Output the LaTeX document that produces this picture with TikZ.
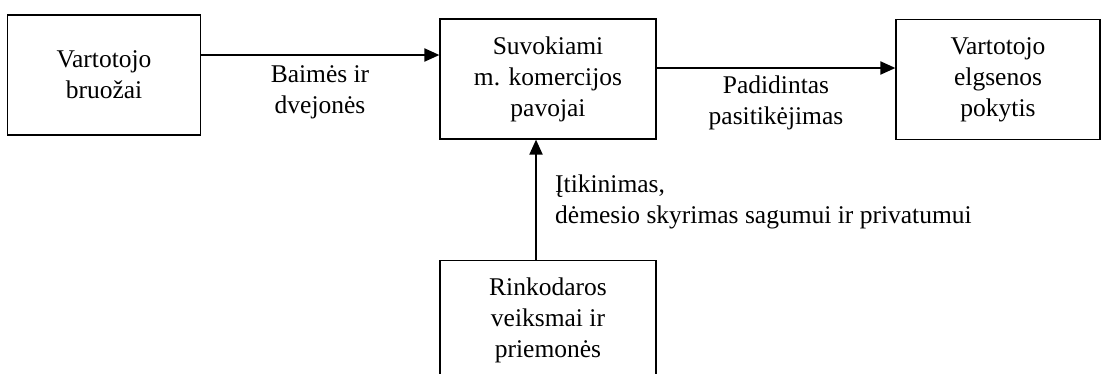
\documentclass[tikz,border=0pt]{standalone}
\usepackage{fontspec}
\setmainfont{Liberation Serif}
\usetikzlibrary{arrows.meta}
\begin{document}
\begin{tikzpicture}[x=1pt,y=1pt,
  font=\fontsize{25.5}{31}\selectfont,
  box/.style={draw, line width=1.2pt, align=center, inner sep=0pt,
    minimum height=120pt},
  arr/.style={line width=2pt, -{Triangle[length=15pt,width=13pt]}},
  lbl/.style={inner sep=0pt, align=center}]
\useasboundingbox (0,0) rectangle (1101,-373);
\clip (0,0) rectangle (1101,-373);

% boxes
\node[box, minimum width=193pt] (L) at (104,-75) {Vartotojo\\bruožai};
\node[box, minimum width=216pt] (M) at (548,-79) {Suvokiami\\m. komercijos\\pavojai};
\node[box, minimum width=204pt] (R) at (998,-79.5) {Vartotojo\\elgsenos\\pokytis};
\node[box, minimum width=216pt, anchor=north] (B) at (548,-260) {Rinkodaros\\veiksmai ir\\priemonės};

% connectors
\draw[arr] (L.east |- 0,-55) -- (M.west |- 0,-55);
\draw[arr] (M.east |- 0,-68) -- (R.west |- 0,-68);
\draw[arr] (B.north -| 536,0) -- (M.south -| 536,0);

% connector labels (base anchor sits on the last line)
\node[lbl, anchor=base] (l1) at (320,-113) {Baimės ir\\dvejonės};
\node[lbl, anchor=base] (l2) at (776,-124) {Padidintas\\pasitikėjimas};
\node[lbl, anchor=base west, align=left] (l3) at (555,-223) {Įtikinimas,\\dėmesio skyrimas sagumui ir privatumui};
\end{tikzpicture}
\end{document}
